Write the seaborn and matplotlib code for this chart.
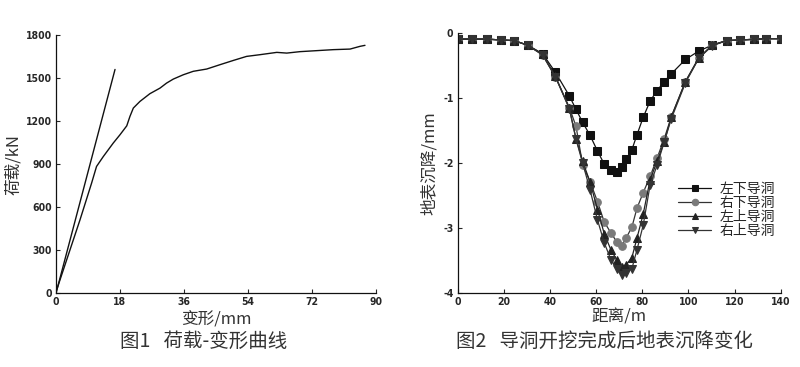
import numpy as np
import pandas as pd
import matplotlib
matplotlib.use("Agg")
import matplotlib.pyplot as plt
import seaborn as sns

# -----------------------------
# Data: load-deformation curve (fig 1)
# -----------------------------
defo = [0, 3.0, 6.75, 10.0, 11.4, 13.3, 16.1, 18.0, 19.9, 20.8, 21.75, 23.6, 26.4,
        29.25, 31.1, 33.0, 35.8, 38.6, 42.4, 46.1, 49.9, 53.6, 57.4, 62.1, 64.9,
        68.6, 73.3, 78.0, 82.7, 85.5, 86.9]
load = [10, 233, 512, 767, 884, 953, 1047, 1105, 1167, 1233, 1291, 1337, 1391,
        1430, 1465, 1493, 1523, 1547, 1563, 1593, 1623, 1651, 1663, 1679, 1674,
        1684, 1691, 1698, 1702, 1721, 1728]
tangent_x = [0, 16.6]
tangent_y = [0, 1560]

# -----------------------------
# Data: surface settlement (fig 2)
# -----------------------------
dist = [0, 6.3, 12.6, 18.8, 24.5, 30.3, 36.8, 42.4, 48.4, 51.3, 54.2, 57.4, 60.6,
        63.5, 66.4, 69.0, 71.0, 73.0, 75.5, 77.7, 80.4, 83.4, 86.4, 89.5, 92.6,
        98.7, 104.5, 110.3, 116.5, 122.2, 128.5, 133.8, 140]
left_lower = [-0.087, -0.087, -0.087, -0.10, -0.11, -0.18, -0.31, -0.60, -0.96,
              -1.17, -1.37, -1.57, -1.81, -2.01, -2.10, -2.13, -2.05, -1.94, -1.79,
              -1.56, -1.29, -1.04, -0.88, -0.74, -0.62, -0.40, -0.27, -0.18, -0.11,
              -0.10, -0.09, -0.08, -0.08]
right_lower = [-0.087, -0.087, -0.087, -0.10, -0.11, -0.18, -0.33, -0.67, -1.14,
               -1.43, -2.03, -2.28, -2.59, -2.90, -3.07, -3.21, -3.27, -3.15, -2.98,
               -2.69, -2.45, -2.20, -1.92, -1.62, -1.28, -0.74, -0.37, -0.18, -0.11,
               -0.10, -0.09, -0.08, -0.08]
left_upper = [-0.087, -0.087, -0.087, -0.10, -0.11, -0.18, -0.32, -0.66, -1.15,
              -1.62, -1.97, -2.29, -2.71, -3.08, -3.33, -3.49, -3.59, -3.56, -3.45,
              -3.15, -2.78, -2.25, -1.97, -1.67, -1.28, -0.74, -0.38, -0.18, -0.11,
              -0.10, -0.09, -0.08, -0.08]
right_upper = [-0.087, -0.087, -0.087, -0.10, -0.11, -0.18, -0.33, -0.67, -1.16,
               -1.63, -2.00, -2.41, -2.87, -3.22, -3.48, -3.62, -3.72, -3.68, -3.62,
               -3.33, -2.95, -2.33, -2.03, -1.67, -1.31, -0.76, -0.38, -0.19, -0.11,
               -0.10, -0.09, -0.08, -0.08]
series_names = ["左下导洞", "右下导洞", "左上导洞", "右上导洞"]

# -----------------------------
# Style
# -----------------------------
sns.set_style("ticks")
plt.rcParams["font.family"] = ["Noto Sans CJK SC", "DejaVu Sans"]
plt.rcParams["xtick.direction"] = "in"
plt.rcParams["ytick.direction"] = "in"

tick_font = dict(family="DejaVu Sans", fontweight="bold", fontstretch="condensed", fontsize=7.5)
txt_color = "#333333"

fig = plt.figure(figsize=(8, 3.67), dpi=100)
ax1 = fig.add_axes([0.07, 0.2008, 0.40, 0.7038])
ax2 = fig.add_axes([0.572, 0.2008, 0.404, 0.708])

# -----------------------------
# Figure 1
# -----------------------------
sns.lineplot(x=defo, y=load, ax=ax1, color="#111111", lw=1.0, sort=False)
sns.lineplot(x=tangent_x, y=tangent_y, ax=ax1, color="#111111", lw=1.0)
ax1.set_xlim(0, 90)
ax1.set_ylim(0, 1800)
ax1.set_xticks(np.arange(0, 91, 18))
ax1.set_yticks(np.arange(0, 1801, 300))
ax1.set_xticklabels([str(v) for v in range(0, 91, 18)], **tick_font)
ax1.set_yticklabels([str(v) for v in range(0, 1801, 300)], **tick_font)
ax1.set_xlabel("变形/mm", fontsize=12, color=txt_color, labelpad=3)
ax1.set_ylabel("荷载/kN", fontsize=12, color=txt_color, labelpad=3)

# -----------------------------
# Figure 2
# -----------------------------
styles = [("s", "#111111", "#111111"), ("o", "#7a7a7a", "#333333"),
          ("^", "#222222", "#222222"), ("v", "#333333", "#333333")]
for vals, name, (mk, mc, lc) in zip([left_lower, right_lower, left_upper, right_upper],
                                    series_names, styles):
    sns.lineplot(x=dist, y=vals, ax=ax2, color=lc, lw=0.9, marker=mk, markersize=5.5,
                 markerfacecolor=mc, markeredgecolor=mc, label=name, sort=False)
ax2.set_xlim(0, 140)
ax2.set_ylim(-4, 0)
ax2.set_xticks(np.arange(0, 141, 20))
ax2.set_yticks([-4, -3, -2, -1, 0])
ax2.set_xticklabels([str(v) for v in range(0, 141, 20)], **tick_font)
ax2.set_yticklabels(["-4", "-3", "-2", "-1", "0"], **tick_font)
ax2.set_xlabel("距离/m", fontsize=12, color=txt_color, labelpad=1)
ax2.set_ylabel("地表沉降/mm", fontsize=12, color=txt_color, labelpad=4)
ax2.legend(loc="upper right", bbox_to_anchor=(1.0, 0.45), frameon=False,
           fontsize=10, handlelength=2.4, labelspacing=0.0, handletextpad=0.6,
           borderaxespad=0, markerscale=0.85)

for ax in (ax1, ax2):
    sns.despine(ax=ax)
    ax.tick_params(length=3, width=0.8, pad=3)
    for s in ("left", "bottom"):
        ax.spines[s].set_linewidth(0.9)
        ax.spines[s].set_color("#111111")

fig.text(0.255, 0.054, "图1   荷载-变形曲线", ha="center", fontsize=14, color=txt_color)
fig.text(0.755, 0.054, "图2   导洞开挖完成后地表沉降变化", ha="center", fontsize=14, color=txt_color)

fig.savefig("out.png", dpi=100)
